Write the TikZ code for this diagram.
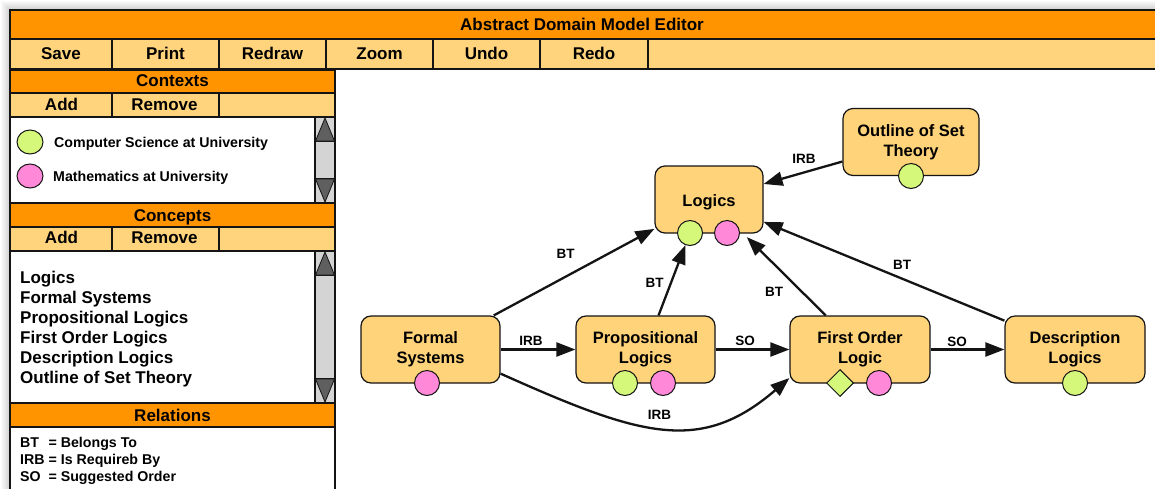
\documentclass[tikz,border=0pt]{standalone}
\usepackage{fontspec}
\usepackage{calc}
\setmainfont{Liberation Sans}
\usetikzlibrary{arrows.meta,shapes.geometric}

\definecolor{barorange}{HTML}{FF9400}
\definecolor{barlight}{HTML}{FFD47C}
\definecolor{nodefill}{HTML}{FFD37A}
\definecolor{ctxgreen}{HTML}{D6F87A}
\definecolor{ctxpink}{HTML}{FF88D8}
\definecolor{scrolllight}{HTML}{D4D4D4}
\definecolor{scrolldark}{HTML}{5F5F5F}
\definecolor{ink}{HTML}{141414}

% bold sans text at a given size / baseline skip
\newcommand\txtsz[2]{\fontsize{#1}{#2}\selectfont\bfseries}

% a vertical scroll bar in the left panel between two y values
\newcommand\drawscroll[2]{%
  \draw[frame,fill=scrolllight] (315,#1) rectangle (335,#2);
  \draw[frame] (315,#1+24) -- (335,#1+24);
  \draw[frame] (315,#2-24) -- (335,#2-24);
  \filldraw[draw=ink,fill=scrolldark,line width=0.8pt]
    (315.5,#1+24) -- (325,#1+1) -- (334.5,#1+24) -- cycle;
  \filldraw[draw=ink,fill=scrolldark,line width=0.8pt]
    (315.5,#2-24) -- (325,#2-1) -- (334.5,#2-24) -- cycle;
}

\begin{document}
\begin{tikzpicture}[x=1pt,y=-1pt,
  frame/.style={draw=ink,line width=1.3pt},
  bar/.style={frame,fill=barorange},
  lightbar/.style={frame,fill=barlight},
  btn/.style={anchor=base,inner sep=0pt,font=\txtsz{17}{20}},
  item/.style={anchor=base west,inner sep=0pt,font=\txtsz{17}{20}},
  ctxtext/.style={anchor=base west,inner sep=0pt,font=\txtsz{14.2}{17}},
  reltext/.style={anchor=base west,inner sep=0pt,font=\txtsz{14.2}{17}},
  concept/.style={draw=ink,line width=1.2pt,fill=nodefill,rounded corners=10pt,
    minimum height=67pt,align=center,inner sep=0pt,font=\txtsz{16.5}{20},
    execute at begin node={\rule{0pt}{16.5pt}}},
  marker/.style={circle,draw=ink,line width=1pt,minimum size=25pt,inner sep=0pt},
  legend/.style={ellipse,draw=ink,line width=1pt,minimum width=26pt,minimum height=24pt,inner sep=0pt},
  optmark/.style={diamond,draw=ink,line width=1pt,fill=ctxgreen,minimum width=27pt,
    minimum height=27pt,inner sep=0pt},
  conn/.style={draw=ink,line width=2.3pt,-{Triangle[length=19pt,width=14pt]}},
  lbl/.style={inner sep=0pt,font=\txtsz{13.5}{16}},
]
\useasboundingbox (0,0) rectangle (1155,488);
\fill[white] (0,0) rectangle (1155,488);

% soft shadow around the window
\foreach \d in {1,...,9}
  \fill[black,opacity=0.018] (10-\d,10-\d) rectangle (1170,500);

% window body
\fill[white] (10,10) rectangle (1170,500);

% title bar
\draw[bar] (10,10) rectangle (1170,39);
\node[btn] (title) at (582,30.5) {Abstract Domain Model Editor};

% menu bar
\draw[lightbar] (10,39) rectangle (1170,69);
\foreach \x in {112,219,326,433,540,648} \draw[frame] (\x,39) -- (\x,69);
\node[btn] (save)   at (61,59.5)  {Save};
\node[btn] (print)  at (165.5,59.5) {Print};
\node[btn] (redraw) at (272.5,59.5) {Redraw};
\node[btn] (zoom)   at (379.5,59.5) {Zoom};
\node[btn] (undo)   at (486.5,59.5) {Undo};
\node[btn] (redo)   at (594,59.5) {Redo};

% left panel: contexts
\draw[frame] (10,69) rectangle (335,500);
\draw[bar] (10,70) rectangle (335,93);
\node[btn] (ctxhead) at (172.5,86) {Contexts};
\draw[lightbar] (10,93) rectangle (335,117);
\draw[frame] (112,93) -- (112,117) (219,93) -- (219,117);
\node[btn] (ctxadd) at (61.5,110) {Add};
\node[btn] (ctxrem) at (164.5,110) {Remove};
\draw[frame,fill=white] (10,117) rectangle (335,203);
\drawscroll{117}{203}
\node[legend,fill=ctxgreen] (legcs) at (30,142) {};
\node[ctxtext] (legcstext) at (54,147) {Computer Science at University};
\node[legend,fill=ctxpink] (legma) at (30,176) {};
\node[ctxtext] (legmatext) at (53,181) {Mathematics at University};

% left panel: concepts
\draw[bar] (10,203) rectangle (335,227);
\node[btn] (conhead) at (172.5,221) {Concepts};
\draw[lightbar] (10,227) rectangle (335,251);
\draw[frame] (112,227) -- (112,251) (219,227) -- (219,251);
\node[btn] (conadd) at (61.5,243.5) {Add};
\node[btn] (conrem) at (164.5,243.5) {Remove};
\draw[frame,fill=white] (10,251) rectangle (335,403);
\drawscroll{251}{403}
\foreach \t [count=\i] in {Logics,Formal Systems,Propositional Logics,
    First Order Logics,Description Logics,Outline of Set Theory}
  \node[item] (list\i) at (20,263+20*\i) {\t};

% left panel: relations
\draw[bar] (10,403) rectangle (335,427);
\node[btn] (relhead) at (172.5,421) {Relations};
\node[reltext] (rel1) at (20,447) {\makebox[\widthof{IRB\ }][l]{BT}= Belongs To};
\node[reltext] (rel2) at (20,464) {IRB = Is Requireb By};
\node[reltext] (rel3) at (20,481) {\makebox[\widthof{IRB\ }][l]{SO}= Suggested Order};

% concept graph
\node[concept,minimum width=108pt] (logics)  at (709,199.5) {Logics};
\node[concept,minimum width=136pt] (outline) at (911,142) {Outline of Set\\Theory};
\node[concept,minimum width=139pt] (formal)  at (430.5,349.5) {Formal\\Systems};
\node[concept,minimum width=139pt] (prop)    at (645.5,349.5) {Propositional\\Logics};
\node[concept,minimum width=140pt] (fol)     at (860,349.5) {First Order\\Logic};
\node[concept,minimum width=140pt] (desc)    at (1075,349.5) {Description\\Logics};

% context markers on the concepts
\node[marker,fill=ctxgreen] (logicsG)  at (690,233) {};
\node[marker,fill=ctxpink]  (logicsP)  at (727,233) {};
\node[marker,fill=ctxgreen] (outlineG) at (911,176) {};
\node[marker,fill=ctxpink]  (formalP)  at (427,383) {};
\node[marker,fill=ctxgreen] (propG)    at (625,383) {};
\node[marker,fill=ctxpink]  (propP)    at (663,383) {};
\node[optmark]              (folG)     at (840,383) {};
\node[marker,fill=ctxpink]  (folP)     at (879,383) {};
\node[marker,fill=ctxgreen] (descG)    at (1075,383) {};

% relations between concepts
\draw[conn] (outline) -- (logics);
\draw[conn] (formal) -- (logics);
\draw[conn] (prop) -- (logicsG);
\draw[conn,shorten >=5pt] (fol) -- (logics);
\draw[conn] (desc) -- (logics);
\draw[conn] (formal) -- (prop);
\draw[conn] (prop) -- (fol);
\draw[conn] (fol) -- (desc);
\draw[conn] (formal.-19.4) .. controls (640,436) and (700,455) .. (fol.202);

% relation labels
\node[lbl] (l1) at (804,158.5) {IRB};
\node[lbl] (l2) at (565.5,254) {BT};
\node[lbl] (l3) at (654.5,282.5) {BT};
\node[lbl] (l4) at (774,291.5) {BT};
\node[lbl] (l5) at (902,265) {BT};
\node[lbl] (l6) at (531,341) {IRB};
\node[lbl] (l7) at (745,341) {SO};
\node[lbl] (l8) at (957,341.5) {SO};
\node[lbl] (l9) at (659.5,414.5) {IRB};
\end{tikzpicture}
\end{document}
